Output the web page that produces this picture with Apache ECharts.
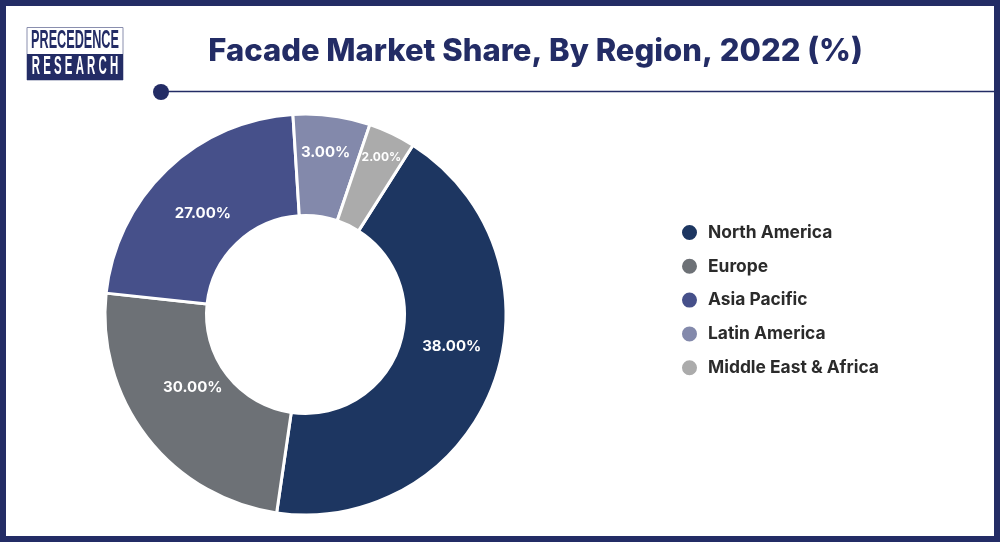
<!DOCTYPE html>
<html><head><meta charset="utf-8">
<style>html,body{margin:0;padding:0;background:#fff}#c{width:1000px;height:542px}</style>
<script src="https://cdn.jsdelivr.net/npm/echarts@6/dist/echarts.min.js"></script>
</head><body><div id="c"></div>
<script>
const titleText = 'Facade Market Share, By Region, 2022 (%)';
const regions = ['North America', 'Europe', 'Asia Pacific', 'Latin America', 'Middle East & Africa'];
// slice sizes as drawn in the picture (they differ from the printed labels)
const drawnShares = [43.3, 24.4, 22.3, 6.2, 3.8];
const printedLabels = ['38.00%', '30.00%', '27.00%', '3.00%', '2.00%'];
const colors = ['#1D3661', '#6D7176', '#46508A', '#8389AB', '#ABABAB'];
const labelOffsets = [[3, -21], [8, -21], [3, 9], [0, -11], [10, -19]];
const labelSizes = [15, 15, 15, 15, 12];
const navy = '#232C65';
const fam = 'Inter, "Open Sans", sans-serif';
const logoFont = '700 25px "Liberation Sans", sans-serif';

const chart = echarts.init(document.getElementById('c'), null, {renderer: 'canvas'});
chart.setOption({
  animation: false,
  backgroundColor: '#fff',
  title: {text: titleText, left: 530.5, top: 31, textAlign: 'center',
    textStyle: {fontFamily: fam, fontSize: 31, fontWeight: 800, color: navy}},
  legend: {orient: 'vertical', left: 680, top: 223, padding: 0, icon: 'circle', itemWidth: 17, itemHeight: 17,
    itemGap: 14.8, selectedMode: false, data: regions,
    textStyle: {fontFamily: fam, fontSize: 17.4, fontWeight: 700, color: '#2B2B2B', padding: [0, 0, 0, 5], lineHeight: 17}},
  series: [{
    type: 'pie', center: [305.5, 314.5], radius: [99, 200.5], startAngle: 57.6, clockwise: true,
    avoidLabelOverlap: false, silent: true,
    itemStyle: {borderColor: '#fff', borderWidth: 3},
    labelLine: {show: false},
    data: regions.map((name, i) => ({
      name, value: drawnShares[i], itemStyle: {color: colors[i]},
      label: {show: true, position: 'inside', formatter: printedLabels[i], offset: labelOffsets[i],
        fontFamily: fam, fontSize: labelSizes[i], fontWeight: 700, color: '#fff'}
    }))
  }],
  graphic: [
    {type: 'rect', shape: {x: 3, y: 3, width: 994, height: 536}, silent: true,
      style: {fill: 'none', stroke: navy, lineWidth: 6}},
    {type: 'rect', shape: {x: 27, y: 27.5, width: 96, height: 52.5}, silent: true,
      style: {fill: '#fff', stroke: '#8a8fae', lineWidth: 1}},
    {type: 'rect', shape: {x: 27, y: 54, width: 96, height: 26}, silent: true, style: {fill: navy}},
    {type: 'text', x: 75, y: 41, scaleX: 0.506, silent: true,
      style: {text: 'PRECEDENCE', align: 'center', verticalAlign: 'middle', font: logoFont, fill: navy}},
    {type: 'text', x: 75, y: 67, scaleX: 0.457, silent: true,
      style: {text: 'R E S E A R C H', align: 'center', verticalAlign: 'middle', font: logoFont, fill: '#fff'}},
    {type: 'line', shape: {x1: 161, y1: 91.5, x2: 994, y2: 91.5}, silent: true, style: {stroke: navy, lineWidth: 1.5}},
    {type: 'circle', shape: {cx: 161, cy: 92, r: 8}, silent: true, style: {fill: navy}}
  ]
});
</script></body></html>
